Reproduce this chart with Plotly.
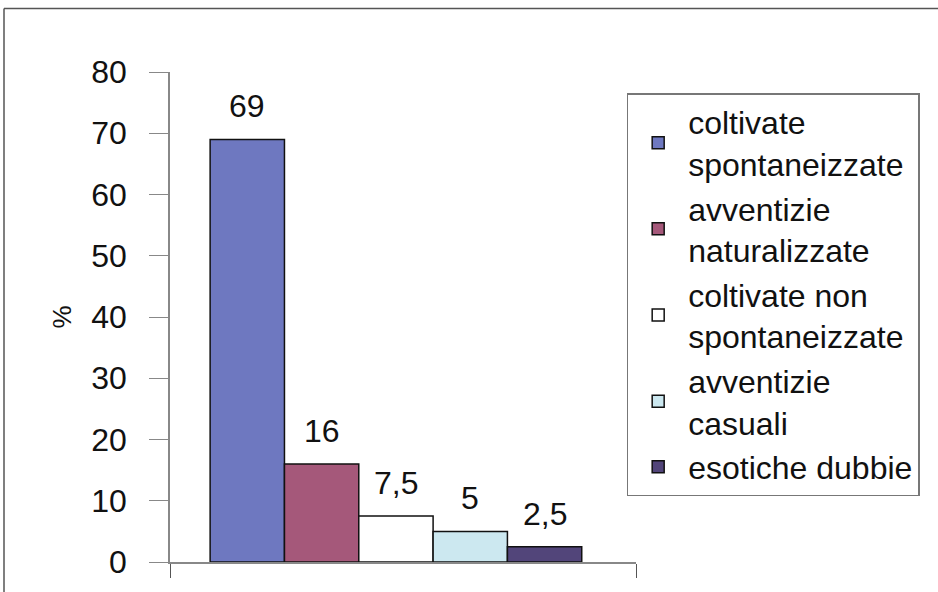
import plotly.graph_objects as go

categories = ["coltivate<br>spontaneizzate", "avventizie<br>naturalizzate",
              "coltivate non<br>spontaneizzate", "avventizie<br>casuali",
              "esotiche dubbie"]
values = [69, 16, 7.5, 5, 2.5]
value_labels = ["69", "16", "7,5", "5", "2,5"]
colors = ["#6e78c0", "#a5587a", "#ffffff", "#cce8f0", "#52457a"]
y_ticks = [0, 10, 20, 30, 40, 50, 60, 70, 80]

FONT = "Arial, Liberation Sans, sans-serif"

fig = go.Figure()
for i, (name, v, c) in enumerate(zip(categories, values, colors)):
    fig.add_trace(go.Bar(
        x=[i], y=[v], width=[1], name=name,
        marker=dict(color=c, line=dict(color="#111111", width=1.5)),
    ))

for i, (v, t) in enumerate(zip(values, value_labels)):
    fig.add_annotation(x=i, y=v, text=t, showarrow=False, yanchor="bottom",
                       yshift=13, font=dict(family=FONT, size=32, color="#111111"))

x_lo, x_hi = -1.04, 5.23

fig.update_layout(
    width=938, height=592,
    margin=dict(l=170, r=302, t=72, b=27),
    paper_bgcolor="white", plot_bgcolor="white",
    barmode="overlay",
    showlegend=True,
    font=dict(family=FONT, color="#111111"),
    legend=dict(
        x=0.98, y=0.957, xanchor="left", yanchor="top",
        bordercolor="#777777", borderwidth=1.5, bgcolor="white",
        font=dict(family=FONT, size=32, color="#111111"),
        itemwidth=50, tracegroupgap=3,
    ),
    xaxis=dict(range=[x_lo, x_hi], showgrid=False, zeroline=False,
               showline=True, linecolor="#888888", linewidth=1.5,
               tickvals=[x_lo, x_hi], ticks="outside", ticklen=14,
               tickcolor="#555555", showticklabels=False),
    yaxis=dict(range=[0, 80], tickvals=y_ticks, showgrid=False, zeroline=False,
               showline=True, linecolor="#888888", linewidth=1.5,
               ticks="outside", ticklen=19, tickcolor="#888888",
               ticklabelstandoff=16,
               tickfont=dict(family=FONT, size=32, color="#111111"),
               title=dict(text="%", standoff=12,
                          font=dict(family=FONT, size=26, color="#111111"))),
    shapes=[
        dict(type="line", xref="paper", yref="paper",
             x0=(4 - 170) / 466, x1=(938 - 170) / 466,
             y0=(565 - 8) / 493, y1=(565 - 8) / 493,
             line=dict(color="#555555", width=1.5)),
        dict(type="line", xref="paper", yref="paper",
             x0=(4 - 170) / 466, x1=(4 - 170) / 466,
             y0=(565 - 8) / 493, y1=(565 - 600) / 493,
             line=dict(color="#555555", width=1.5)),
    ],
)

fig.write_html("out.html", config={"displayModeBar": False},
               post_script="document.body.style.margin='0';")
